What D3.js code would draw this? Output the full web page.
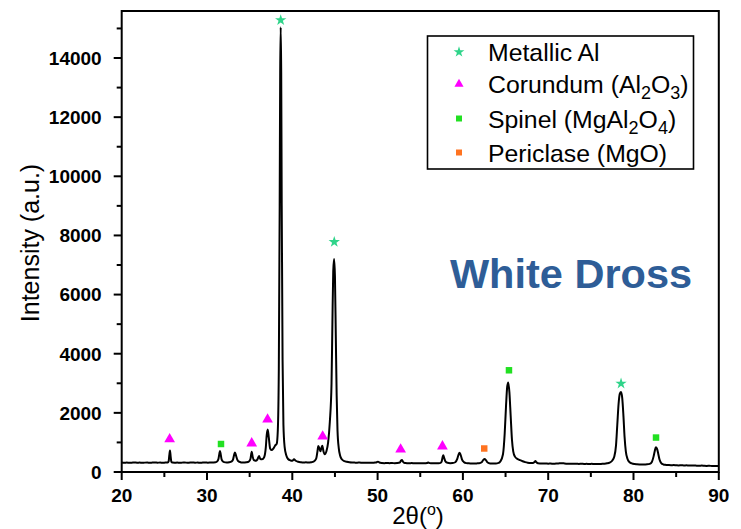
<!DOCTYPE html>
<html>
<head>
<meta charset="utf-8">
<script src="https://cdn.jsdelivr.net/npm/d3@7"></script>
<style>
  body { margin: 0; background: #fff; }
  svg text { font-family: Arial, "Liberation Sans", sans-serif; }
</style>
</head>
<body>
<script>
// XRD pattern (2theta in degrees, intensity in a.u.)
const twoTheta = [
  20.0, 20.3, 20.6, 20.9, 21.2, 21.5, 21.8, 22.1, 22.4, 22.7, 23.0, 23.3, 23.6, 23.9, 24.2, 24.5, 24.8, 25.1, 25.4,
  25.5, 25.58, 25.66, 25.74, 25.82, 25.95,
  26.2, 26.5, 26.8, 27.1, 27.4, 27.7, 28.0, 28.3, 28.6, 28.9, 29.2, 29.5, 29.8, 30.1, 30.4, 30.7, 31.0, 31.2,
  31.35, 31.45, 31.52, 31.6, 31.7, 31.85, 32.0, 32.3, 32.6, 32.9,
  33.05, 33.18, 33.28, 33.4, 33.55, 33.75, 34.0, 34.3, 34.6, 34.9, 35.1, 35.24, 35.35, 35.5, 35.7, 35.9, 36.1, 36.25,
  36.45, 36.7, 36.9, 37.0, 37.12, 37.25, 37.4, 37.55, 37.8, 38.0, 38.17, 38.3, 38.42, 38.52, 38.58, 38.64, 38.7,
  38.76, 38.86, 38.96, 39.1, 39.3, 39.5, 39.8, 40.0, 40.2, 40.4, 40.7, 41.0, 41.3, 41.6, 41.9, 42.2, 42.5, 42.8,
  42.95, 43.05, 43.2, 43.3, 43.42, 43.52, 43.65, 43.8, 44.0, 44.2, 44.4, 44.6, 44.7, 44.8, 44.9, 45.0, 45.1, 45.2,
  45.3, 45.45, 45.6, 45.8, 46.1, 46.4, 46.7, 47.0, 47.3, 47.6, 47.9, 48.2, 48.5, 48.8, 49.1, 49.4, 49.7, 49.9, 50.05,
  50.2, 50.5, 50.8, 51.1, 51.4, 51.7, 52.0, 52.3, 52.6, 52.75, 52.85, 52.95, 53.1, 53.4, 53.7, 54.0, 54.3, 54.6,
  54.9, 55.2, 55.5, 55.8, 55.95, 56.1, 56.4, 56.7, 57.0, 57.3, 57.5, 57.62, 57.7, 57.8, 57.95, 58.2, 58.5, 58.8,
  59.1, 59.35, 59.5, 59.6, 59.72, 59.9, 60.1, 60.4, 60.7, 61.0, 61.3, 61.6, 61.9, 62.2, 62.4, 62.55, 62.7, 62.9,
  63.2, 63.5, 63.8, 64.1, 64.4, 64.7, 64.9, 65.05, 65.2, 65.32, 65.45, 65.6, 65.75, 65.9, 66.1, 66.4, 66.7, 67.0,
  67.3, 67.6, 67.9, 68.2, 68.4, 68.5, 68.62, 68.8, 69.1, 69.4, 69.7, 70.0, 70.3, 70.6, 70.9, 71.2, 71.5, 71.8,
  72.1, 72.4, 72.7, 73.0, 73.3, 73.6, 73.9, 74.2, 74.5, 74.8, 75.1, 75.4, 75.7, 76.0, 76.3, 76.6, 76.9, 77.2,
  77.5, 77.75, 77.95, 78.1, 78.25, 78.4, 78.54, 78.68, 78.82, 78.95, 79.1, 79.3, 79.5, 79.8, 80.1, 80.4, 80.7,
  81.0, 81.3, 81.6, 81.9, 82.15, 82.35, 82.5, 82.62, 82.75, 82.9, 83.05, 83.25, 83.5, 83.8, 84.1, 84.4, 84.7,
  85.0, 85.3, 85.6, 85.9, 86.2, 86.5, 86.8, 87.1, 87.4, 87.7, 88.0, 88.3, 88.6, 88.9, 89.2, 89.5, 89.8, 90.0
];
const intensity = [
  320, 312, 318, 310, 316, 322, 314, 318, 311, 317, 320, 313, 318, 322, 315, 319, 313, 318, 322,
  360, 560, 730, 520, 350, 318,
  313, 318, 311, 317, 321, 313, 318, 323, 315, 319, 312, 318, 322, 315, 319, 324, 330, 360,
  450, 620, 710, 610, 440, 360, 335, 322, 330, 360,
  420, 580, 660, 560, 420, 350, 325, 320, 328, 350, 450, 685, 520, 400, 380, 420, 545, 440,
  430, 500, 850, 1250, 1440, 1150, 800, 740, 800, 900, 950, 1400, 3500, 9000, 13500, 15040, 13500,
  9000, 3800, 1600, 850, 560, 440, 390, 380, 430, 380, 345, 330, 322, 328, 320, 330, 350, 450,
  700, 880, 780, 700, 820, 890, 700, 600, 700, 1000, 1700, 3000, 5000, 6800, 7207, 6600, 4600, 2600,
  1400, 800, 560, 430, 370, 345, 330, 322, 318, 315, 320, 312, 317, 310, 315, 310, 318, 332, 350,
  322, 305, 300, 306, 298, 303, 297, 302, 320, 390, 405, 360, 310, 300, 296, 302, 295, 300,
  294, 298, 296, 305, 320, 300, 293, 298, 292, 300, 350, 500, 570, 480, 360, 310, 300, 305,
  330, 450, 600, 650, 590, 420, 340, 300, 292, 290, 286, 291, 295, 330, 410, 440, 400, 320,
  290, 285, 290, 300, 360, 600, 1300, 2200, 2900, 3030, 2700, 1900, 1100, 700, 520, 440, 400, 365,
  335, 315, 305, 305, 340, 370, 330, 295, 288, 284, 290, 282, 286, 280, 285, 290, 300, 292,
  282, 278, 283, 276, 280, 273, 278, 272, 276, 270, 275, 268, 273, 270, 275, 282, 295, 320,
  380, 520, 900, 1600, 2300, 2650, 2705, 2500, 1900, 1200, 700, 440, 340, 290, 268, 260, 255,
  252, 255, 258, 275, 340, 520, 720, 833, 790, 620, 420, 300, 255, 240, 234, 230, 233,
  228, 224, 228, 222, 225, 219, 218, 221, 215, 212, 216, 210, 207, 210, 204, 207, 202, 204
];

// phase markers
const alTheta = [38.64, 44.92, 78.54];
const alValue = [15280, 7780, 2990];
const corTheta = [25.62, 35.24, 37.1, 43.56, 52.7, 57.6];
const corValue = [1110, 970, 1777, 1200, 766, 870];
const spTheta = [31.64, 65.4, 82.64];
const spValue = [947, 3440, 1165];
const perTheta = [62.5];
const perValue = [795];

const xTicks = [20, 30, 40, 50, 60, 70, 80, 90];
const xMinor = [25, 35, 45, 55, 65, 75, 85];
const yTicks = [0, 2000, 4000, 6000, 8000, 10000, 12000, 14000];
const yMinor = [1000, 3000, 5000, 7000, 9000, 11000, 13000, 15000];

const colStar = '#2fd48a', colTri = '#ff00ff', colSq = '#22e022', colOr = '#ff7320';

const W = 741, H = 529;
const plotL = 121.7, plotR = 718.8, plotT = 11, plotB = 472;

const svg = d3.select('body').append('svg')
  .attr('width', W)
  .attr('height', H);

const x = d3.scaleLinear().domain([20, 90]).range([plotL, plotR]);
const y = d3.scaleLinear().domain([0, 15590]).range([plotB, plotT]);

// frame
svg.append('rect')
  .attr('x', plotL).attr('y', plotT)
  .attr('width', plotR - plotL).attr('height', plotB - plotT)
  .attr('fill', 'none').attr('stroke', '#000').attr('stroke-width', 2);

// x axis ticks
const gx = svg.append('g').attr('transform', `translate(0, ${plotB})`);
gx.selectAll('line.maj').data(xTicks).enter().append('line')
  .attr('x1', d => x(d)).attr('x2', d => x(d)).attr('y1', 0).attr('y2', 8)
  .attr('stroke', '#000').attr('stroke-width', 2);
gx.selectAll('line.min').data(xMinor).enter().append('line')
  .attr('x1', d => x(d)).attr('x2', d => x(d)).attr('y1', 0).attr('y2', 5)
  .attr('stroke', '#000').attr('stroke-width', 2);
gx.selectAll('text').data(xTicks).enter().append('text')
  .attr('x', d => x(d)).attr('y', 30)
  .attr('text-anchor', 'middle')
  .style('font-size', '19px').style('font-weight', 'bold')
  .text(d => d);

// y axis ticks
const gy = svg.append('g').attr('transform', `translate(${plotL}, 0)`);
gy.selectAll('line.maj').data(yTicks).enter().append('line')
  .attr('x1', 0).attr('x2', -8).attr('y1', d => y(d)).attr('y2', d => y(d))
  .attr('stroke', '#000').attr('stroke-width', 2);
gy.selectAll('line.min').data(yMinor).enter().append('line')
  .attr('x1', 0).attr('x2', -5).attr('y1', d => y(d)).attr('y2', d => y(d))
  .attr('stroke', '#000').attr('stroke-width', 2);
gy.selectAll('text').data(yTicks).enter().append('text')
  .attr('x', -20).attr('y', d => y(d))
  .attr('dy', '0.36em')
  .attr('text-anchor', 'end')
  .style('font-size', '19px').style('font-weight', 'bold')
  .text(d => d);

// axis titles
svg.append('text')
  .attr('transform', `translate(39, 243) rotate(-90)`)
  .attr('text-anchor', 'middle')
  .style('font-size', '25px')
  .text('Intensity (a.u.)');

const xt = svg.append('text')
  .attr('x', 418).attr('y', 524)
  .attr('text-anchor', 'middle')
  .style('font-size', '24px');
xt.append('tspan').text('2θ(');
xt.append('tspan').attr('dy', -9).style('font-size', '16px').text('o');
xt.append('tspan').attr('dy', 9).text(')');

// pattern
const pts = twoTheta.map((t, i) => [t, intensity[i]]);
svg.append('path')
  .datum(pts)
  .attr('fill', 'none')
  .attr('stroke', '#000')
  .attr('stroke-width', 2)
  .attr('stroke-linejoin', 'round')
  .attr('d', d3.line().x(d => x(d[0])).y(d => y(d[1])).curve(d3.curveMonotoneX));

// markers
const sets = [
  { t: alTheta, v: alValue, sym: d3.symbolStar, size: 40, c: colStar },
  { t: corTheta, v: corValue, sym: d3.symbolTriangle, size: 50, c: colTri },
  { t: spTheta, v: spValue, sym: d3.symbolSquare, size: 42, c: colSq },
  { t: perTheta, v: perValue, sym: d3.symbolSquare, size: 42, c: colOr }
];
sets.forEach(s => {
  svg.append('g').selectAll('path').data(s.t).enter().append('path')
    .attr('transform', (d, i) => `translate(${x(d)}, ${y(s.v[i])})`)
    .attr('d', d3.symbol().type(s.sym).size(s.size))
    .attr('fill', s.c);
});

// legend
const lg = svg.append('g');
lg.append('rect')
  .attr('x', 427.5).attr('y', 36).attr('width', 266).attr('height', 133)
  .attr('fill', '#fff').attr('stroke', '#000').attr('stroke-width', 1.6);
const legendRows = [
  { sym: d3.symbolStar, c: colStar, y: 52, parts: [['Metallic Al']] },
  { sym: d3.symbolTriangle, c: colTri, y: 84, parts: [['Corundum (Al'], ['2', 1], ['O'], ['3', 1], [')']] },
  { sym: d3.symbolSquare, c: colSq, y: 118.5, parts: [['Spinel (MgAl'], ['2', 1], ['O'], ['4', 1], [')']] },
  { sym: d3.symbolSquare, c: colOr, y: 152.5, parts: [['Periclase (MgO)']] }
];
legendRows.forEach(r => {
  lg.append('path')
    .attr('transform', `translate(459, ${r.y})`)
    .attr('d', d3.symbol().type(r.sym).size(36))
    .attr('fill', r.c);
  const t = lg.append('text')
    .attr('x', 488).attr('y', r.y + 9)
    .style('font-size', '24.8px');
  let sub = false;
  r.parts.forEach(p => {
    const ts = t.append('tspan').text(p[0]);
    if (p[1] && !sub) { ts.attr('dy', 6).style('font-size', '18px'); sub = true; }
    else if (!p[1] && sub) { ts.attr('dy', -6); sub = false; }
  });
});

// sample label
svg.append('text')
  .attr('x', 571).attr('y', 288)
  .attr('text-anchor', 'middle')
  .style('font-size', '41.5px').style('font-weight', 'bold')
  .attr('fill', '#2e5d97')
  .text('White Dross');
</script>
</body>
</html>
